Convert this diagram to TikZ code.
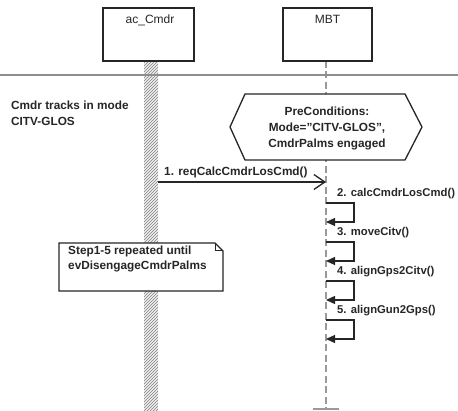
\documentclass[tikz,border=0pt]{standalone}
\usepackage{fontspec}
\setmainfont{Liberation Sans}
\usetikzlibrary{arrows.meta,patterns}
\definecolor{ink}{HTML}{262626}
\definecolor{sepgray}{HTML}{8E8E8E}
\definecolor{lifegray}{HTML}{9A9A9A}
\tikzset{
  lbl/.style={font=\fontsize{11.8}{16}\selectfont\bfseries, text=ink, inner sep=0pt},
  selflbl/.style={font=\fontsize{11.3}{14}\selectfont\bfseries, text=ink, inner sep=0pt, anchor=base west},
  notetext/.style={font=\fontsize{11.8}{15}\selectfont\bfseries, text=ink, inner sep=0pt, align=left, anchor=north west},
  objbox/.style={draw=ink, line width=1.3pt, fill=white},
  objname/.style={font=\fontsize{12}{14}\selectfont, text=ink, inner sep=0pt, anchor=base},
  hatchbar/.style={pattern=north east lines, pattern color=gray, draw=none, inner sep=0pt, anchor=north},
  lifeline/.style={draw=lifegray, line width=1.4pt, dash pattern=on 7pt off 3.5pt},
  sepline/.style={draw=sepgray, line width=2.4pt},
  shapeline/.style={draw=ink, line width=1.3pt, fill=white},
  callmsg/.style={draw=ink, line width=1.3pt, -{Straight Barb[length=11pt,width=15pt,line width=1.3pt]}},
  selfmsg/.style={draw=ink, line width=1.3pt, -{Triangle[length=9pt,width=8pt]}},
}
\begin{document}
\begin{tikzpicture}[x=1pt,y=-1pt]
\useasboundingbox (0,0) rectangle (458,411);
% lifelines
\fill[gray!12] (144,61) rectangle (158,411);
\node[hatchbar, minimum width=14pt, minimum height=350pt] (cmdrlife) at (151,61) {};
\coordinate (mbttop) at (326,61);
\coordinate (mbtend) at (326,409);
\draw[lifeline] (mbttop) -- (mbtend);
\coordinate (tickl) at (313,409);
\coordinate (tickr) at (339,409);
\draw[draw=lifegray, line width=1.4pt] (tickl) -- (tickr);
% separator
\coordinate (sepl) at (0,75);
\coordinate (sepr) at (458,75);
\draw[sepline] (sepl) -- (sepr);
% object boxes
\coordinate (cmdrtl) at (103,8);
\coordinate (cmdrbr) at (194,61);
\draw[objbox] (cmdrtl) rectangle (cmdrbr);
\node[objname] (cmdrname) at (150,24) {ac\_Cmdr};
\coordinate (mbttl) at (283,8);
\coordinate (mbtbr) at (372,61);
\draw[objbox] (mbttl) rectangle (mbtbr);
\node[objname] (mbtname) at (327.5,24) {MBT};
% mode text
\node[lbl, align=left, anchor=north west] (mode) at (11,100.4) {Cmdr tracks in mode\\CITV-GLOS};
% precondition hexagon
\draw[shapeline] (230,127) -- (245,94) -- (405,94) -- (422,127) -- (405,160) -- (245,160) -- cycle;
\node[lbl, align=center] (precond) at (327,128) {PreConditions:\\Mode="CITV-GLOS",\\CmdrPalms engaged};
% note
\draw[shapeline] (59,243) -- (215,243) -- (223,251) -- (223,291) -- (59,291) -- cycle;
\draw[draw=ink, line width=1pt] (215,243) -- (215,251) -- (223,251);
\node[notetext] (note) at (68,245.4) {Step1-5 repeated until\\evDisengageCmdrPalms};
% message 1
\coordinate (m1s) at (158,182);
\coordinate (m1e) at (326,182);
\draw[callmsg] (m1s) -- (m1e);
\node[lbl, anchor=base west] (m1lbl) at (164,176) {1. reqCalcCmdrLosCmd()};
% self messages
\foreach \k/\txt in {0/{2. calcCmdrLosCmd()},1/{3. moveCitv()},2/{4. alignGps2Citv()},3/{5. alignGun2Gps()}}{
  \coordinate (la\k) at (326,203+39*\k);
  \coordinate (lb\k) at (326,222+39*\k);
  \draw[selfmsg] (la\k) -- ++(28,0) |- (lb\k);
  \node[selflbl] (ll\k) at (337,197+39*\k) {\txt};
}
\end{tikzpicture}
\end{document}
